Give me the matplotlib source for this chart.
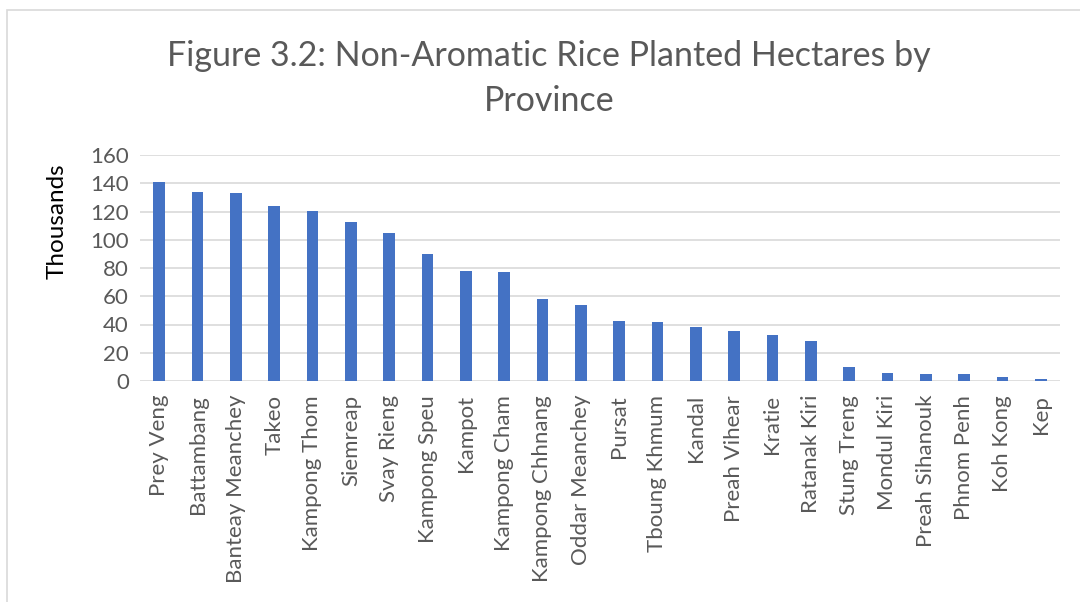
import matplotlib
matplotlib.use("Agg")
import matplotlib.pyplot as plt
from matplotlib.patches import Rectangle

provinces = ["Prey Veng", "Battambang", "Banteay Meanchey", "Takeo", "Kampong Thom",
             "Siemreap", "Svay Rieng", "Kampong Speu", "Kampot", "Kampong Cham",
             "Kampong Chhnang", "Oddar Meanchey", "Pursat", "Tboung Khmum", "Kandal",
             "Preah Vihear", "Kratie", "Ratanak Kiri", "Stung Treng", "Mondul Kiri",
             "Preah Sihanouk", "Phnom Penh", "Koh Kong", "Kep"]
hectares_thousands = [140.6, 133.6, 132.9, 124.1, 120.6, 112.4, 104.6, 89.8, 77.7, 77.0,
                      58.0, 53.9, 42.6, 41.9, 37.9, 35.6, 32.3, 28.5, 9.9, 5.7,
                      5.2, 4.7, 3.1, 1.6]
yticks = [0, 20, 40, 60, 80, 100, 120, 140, 160]

plt.rcParams['font.family'] = ['Lato', 'DejaVu Sans']

fig = plt.figure(figsize=(10.8, 6.02), dpi=100)
ax = fig.add_axes([140/1080, 1-381/602, 920/1080, 226/602])

x = range(len(provinces))
ax.bar(x, hectares_thousands, width=0.31, color="#4472C4", zorder=3)
ax.set_xlim(-0.5, len(provinces)-0.5)
ax.set_ylim(0, 160)
ax.set_yticks(yticks)
ax.set_yticklabels([str(v) for v in yticks], fontsize=16, color="#595959")
ax.set_xticks(list(x))
ax.set_xticklabels(provinces, rotation=90, fontsize=16, color="#595959", va="top", ha="center")
ax.tick_params(axis='both', length=0, pad=8)
ax.tick_params(axis='x', pad=10)
ax.grid(axis='y', color="#D9D9D9", linewidth=1.2, zorder=0)
for s in ax.spines.values():
    s.set_visible(False)

fig.text(57/1080, 1-221/602, "Thousands", rotation=90, ha="center", va="center",
         fontsize=17.5, color="black")

fig.text(549/1080, 1-56/602, "Figure 3.2: Non-Aromatic Rice Planted Hectares by", ha="center",
         va="center", fontsize=24.5, color="#595959")
fig.text(549/1080, 1-101/602, "Province", ha="center", va="center", fontsize=24.5, color="#595959")

fig.patches.append(Rectangle((7/1080, -0.01), 1.1, 1-10/602+0.01, transform=fig.transFigure,
                             fill=False, edgecolor="#D9D9D9", linewidth=1.2))

fig.savefig("out.png", dpi=100)
